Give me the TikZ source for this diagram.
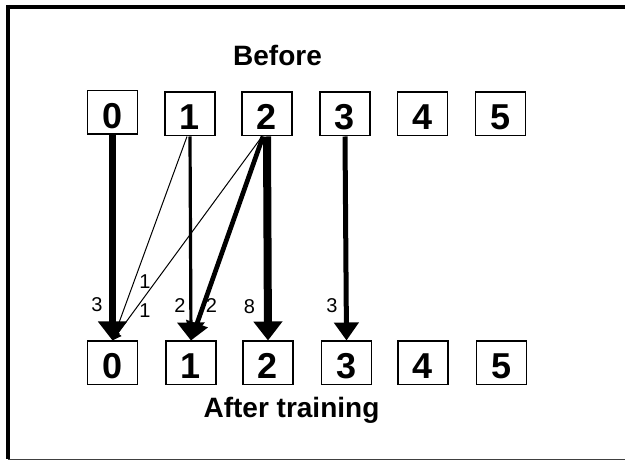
\documentclass[tikz,border=0pt]{standalone}
\usepackage{fontspec}
\setmainfont{Liberation Sans}
\usetikzlibrary{arrows.meta}
\begin{document}
\begin{tikzpicture}[x=1pt,y=-1pt,
  digitbox/.style={draw, line width=1.5pt, inner sep=0pt, minimum width=50pt,
    text height=37.5pt, text depth=6pt, font=\bfseries\fontsize{36}{42}\selectfont},
  title/.style={inner sep=0pt, anchor=base, font=\bfseries\fontsize{28}{33}\selectfont},
  weight/.style={inner sep=0pt, font=\fontsize{20}{24}\selectfont},
  thinarrow/.style={line width=1pt, -{Triangle[length=9pt,width=9pt]}}
]
\useasboundingbox (0,0) rectangle (625,462);

% frame: heavy top and left edges, light bottom edge
\draw[line width=4pt] (6,7) -- (625,7);
\draw[line width=4pt] (8,5) -- (8,459);
\draw[line width=1.5pt, black!75] (8,459.5) -- (625,459.5);

% titles
\node[title] (before) at (277.5,66) {Before};
\node[title] (after) at (291.5,418) {After training};

% top row
\node[digitbox] (t0) at (112.5,112.5) {0};
\node[digitbox] (t1) at (190,114) {1};
\node[digitbox] (t2) at (267,114) {2};
\node[digitbox] (t3) at (345,114) {3};
\node[digitbox] (t4) at (422.5,114) {4};
\node[digitbox] (t5) at (500.5,114) {5};

% bottom row
\node[digitbox] (b0) at (112.5,363) {0};
\node[digitbox] (b1) at (191,363) {1};
\node[digitbox] (b2) at (268,363) {2};
\node[digitbox] (b3) at (346.5,363) {3};
\node[digitbox] (b4) at (423,363) {4};
\node[digitbox] (b5) at (501.5,363) {5};

% thin connectors (drawn first, under the heavy ones)
\draw[thinarrow] ([xshift=-3pt]t1.south) -- (b0.north);
\draw[thinarrow] ([xshift=-5pt]t2.south) -- (b0.north);

% heavy connectors
\draw[line width=6.5pt, -{Triangle[length=19pt,width=28pt]}] (t0.south) -- (b0.north);
\draw[line width=3.2pt, -{Triangle[length=18pt,width=27pt]}] (t1.south) -- (b1.north);
\draw[line width=4.7pt, -{Triangle[length=18pt,width=22pt]}] ([xshift=-4pt]t2.south) -- (b1.north);
\draw[line width=8pt, -{Triangle[length=19pt,width=28pt]}] (t2.south) -- (b2.north);
\draw[line width=5pt, -{Triangle[length=18pt,width=24pt]}] (t3.south) -- (b3.north);

% weights
\node[weight] (w00) at (97,305) {3};
\node[weight] (w10) at (145,281.5) {1};
\node[weight] (w20) at (145,311) {1};
\node[weight] (w11) at (180,306) {2};
\node[weight] (w21) at (211.5,306) {2};
\node[weight] (w22) at (249.5,307) {8};
\node[weight] (w33) at (332,305.5) {3};
\end{tikzpicture}
\end{document}
